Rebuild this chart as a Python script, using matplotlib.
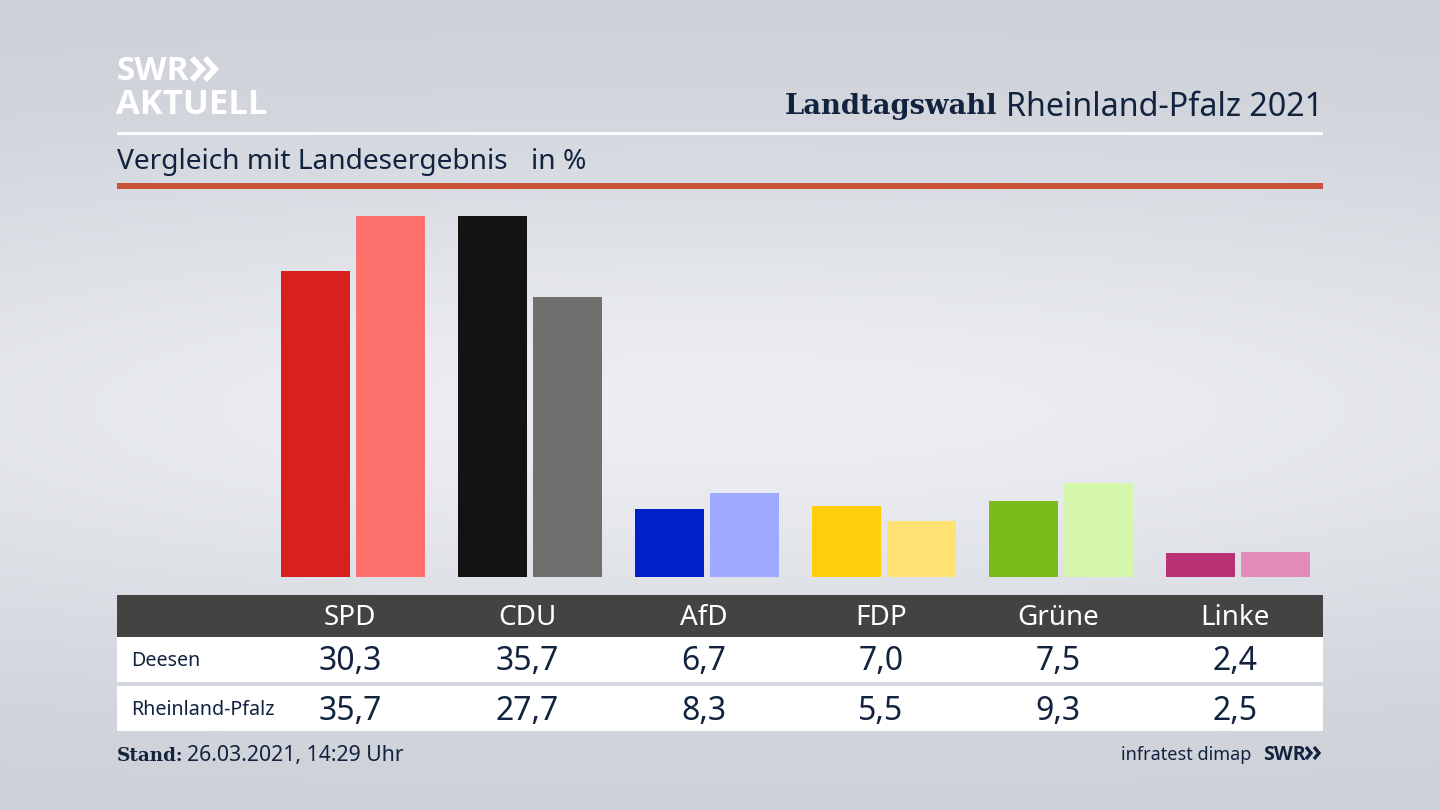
"""Landtagswahl Rheinland-Pfalz 2021: Deesen compared with the state result."""

import numpy as np
import matplotlib
matplotlib.use("Agg")
import matplotlib.pyplot as plt
from matplotlib.patches import Rectangle

parties = ["SPD", "CDU", "AfD", "FDP", "Grüne", "Linke"]
deesen = [30.3, 35.7, 6.7, 7.0, 7.5, 2.4]
land = [35.7, 27.7, 8.3, 5.5, 9.3, 2.5]
deesen_labels = ["30,3", "35,7", "6,7", "7,0", "7,5", "2,4"]
land_labels = ["35,7", "27,7", "8,3", "5,5", "9,3", "2,5"]
deesen_colors = ["#d8201f", "#131313", "#0020c8", "#ffcd0a", "#78bc1b", "#b93075"]
land_colors = ["#ff716c", "#706f6d", "#9daaff", "#ffe272", "#d4f7ab", "#e08bb8"]

NAVY = "#12233f"
plt.rcParams["font.family"] = ["Noto Sans", "DejaVu Sans"]

W, H = 1440, 810
fig = plt.figure(figsize=(W / 100, H / 100), dpi=100)

# page layer in pixel coordinates, y pointing down
page = fig.add_axes([0, 0, 1, 1])
page.set_xlim(0, W)
page.set_ylim(H, 0)
page.axis("off")

# soft grey background, brightest a bit below the middle
yy, xx = np.mgrid[0:H:81j, 0:W:144j]
shade = np.exp(-((yy - 410) / 250) ** 2) * (1 - 0.25 * ((xx - 720) / 720) ** 2)
top, light = np.array([0.80, 0.815, 0.84]), np.array([0.925, 0.932, 0.952])
bg = top + (light - top) * shade[..., None]
page.imshow(bg, extent=(0, W, H, 0), aspect="auto", zorder=0, interpolation="bicubic")


def band(x0, y0, x1, y1, color):
    page.add_patch(Rectangle((x0, y0), x1 - x0, y1 - y0, fc=color, ec="none", zorder=1))


# header
band(117, 132, 1323, 135, "white")
band(117, 183, 1323, 189, "#cb5138")
page.text(117, 71, "SWR", color="white", fontsize=24, fontweight="bold",
          family="Open Sans", va="center", ha="left")
page.text(116, 105, "AKTUELL", color="white", fontsize=24.8, fontweight="bold",
          family="Open Sans", va="center", ha="left")
for x0 in (192, 205):
    page.plot([x0, x0 + 10, x0], [58, 69, 80], color="white", lw=4.2,
              solid_joinstyle="miter", solid_capstyle="butt", zorder=2)

page.text(1323, 108, "Rheinland-Pfalz 2021", color=NAVY, fontsize=23.2,
          va="center", ha="right")
page.text(997, 107, "Landtagswahl", color=NAVY, fontsize=19.7, fontweight="bold",
          family="DejaVu Serif", va="center", ha="right")
page.text(117, 162, "Vergleich mit Landesergebnis", color=NAVY, fontsize=20.25,
          va="center", ha="left")
page.text(531, 162, "in %", color=NAVY, fontsize=20.25, va="center", ha="left")

# table
band(117, 595, 1323, 637, "#434342")
band(117, 637, 1323, 682, "white")
band(117, 686, 1323, 731, "white")
page.text(131, 661, "Deesen", color=NAVY, fontsize=14.2, va="center", ha="left")
page.text(131, 710, "Rheinland-Pfalz", color=NAVY, fontsize=14.2, va="center", ha="left")

# bars, the columns are 177 px apart
x_first, x_step = 353, 177
ax = fig.add_axes([117 / W, 1 - 577 / H, (1323 - 117) / W, (577 - 200) / H])
ax.patch.set_alpha(0)
ax.set_xlim((117 - x_first) / x_step, (1323 - x_first) / x_step)
ax.set_ylim(0, 377 / 10.1)
ax.axis("off")
pos = np.arange(len(parties))
ax.bar(pos - 0.212, deesen, width=0.39, color=deesen_colors)
ax.bar(pos + 0.212, land, width=0.39, color=land_colors)

for i, party in enumerate(parties):
    x = x_first - 3 + i * x_step
    page.text(x, 618, party, color="white", fontsize=20, va="center", ha="center")
    page.text(x, 662, deesen_labels[i], color=NAVY, fontsize=23, va="center", ha="center")
    page.text(x, 711, land_labels[i], color=NAVY, fontsize=23, va="center", ha="center")

# footer
page.text(117, 756, "Stand:", color=NAVY, fontsize=13.2, fontweight="bold",
          family="DejaVu Serif", va="center", ha="left")
page.text(187, 756, "26.03.2021, 14:29 Uhr", color=NAVY, fontsize=15.3, va="center", ha="left")
page.text(1251, 755, "infratest dimap", color=NAVY, fontsize=13, va="center", ha="right")
page.text(1263, 755, "SWR", color=NAVY, fontsize=14, fontweight="bold",
          family="Open Sans", va="center", ha="left")
for x0 in (1306, 1314):
    page.plot([x0, x0 + 5, x0], [747, 753, 759], color=NAVY, lw=2.4,
              solid_joinstyle="miter", solid_capstyle="butt", zorder=2)

fig.savefig("out.png", dpi=100)
